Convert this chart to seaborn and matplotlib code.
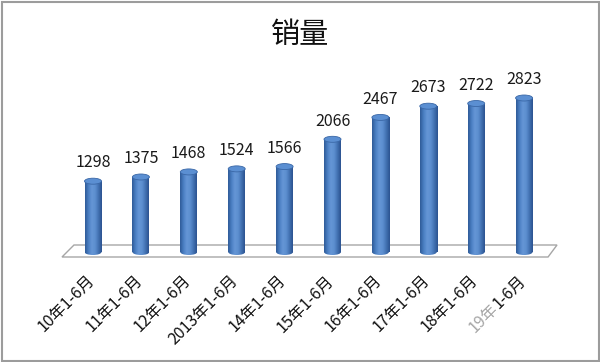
import numpy as np
import pandas as pd
import matplotlib
matplotlib.use("Agg")
import matplotlib.pyplot as plt
import seaborn as sns
from matplotlib.patches import Ellipse, Rectangle, Polygon
from matplotlib.colors import LinearSegmentedColormap

# ---- data ----
categories = ["10年1-6月", "11年1-6月", "12年1-6月", "2013年1-6月", "14年1-6月",
              "15年1-6月", "16年1-6月", "17年1-6月", "18年1-6月", "19年1-6月"]
sales = [1298, 1375, 1468, 1524, 1566, 2066, 2467, 2673, 2722, 2823]
title_text = "销量"

df = pd.DataFrame({"cat": categories, "sales": sales})

sns.set_theme(style="white")
plt.rcParams["font.family"] = ["Noto Sans CJK SC", "DejaVu Sans"]

W, H, DPI = 600, 362, 100
fig = plt.figure(figsize=(W / DPI, H / DPI), dpi=DPI)
ax = fig.add_axes([0, 0, 1, 1])

# pixel mapping
x0px, dxpx = 93.0, 47.9
base_px, ppu = 252.0, 0.05455
n = len(categories)

bar_w = 17 / dxpx
sns.barplot(data=df, x="cat", y="sales", ax=ax, width=bar_w, color="#4a7ebf",
            saturation=1, edgecolor="none", zorder=3)

# floor
fl_b = -5 / ppu
fl_t = 7 / ppu
floor = Polygon([(-0.647, fl_b), (n - 1 + 0.50, fl_b), (n - 1 + 0.687, fl_t), (-0.397, fl_t)],
                closed=True, facecolor="white", edgecolor="#a6a6a6", lw=1.0, zorder=1)
ax.add_patch(floor)

# cylinder look
cmap = LinearSegmentedColormap.from_list(
    "cyl", ["#2f5a97", "#4a7fc2", "#6596d6", "#5d8fd0", "#4272b2", "#2b5290"])
grad = np.linspace(0, 1, 64).reshape(1, -1)
eh = 6 / ppu
container = ax.containers[0]
for p in container.patches:
    xb, w, h = p.get_x(), p.get_width(), p.get_height()
    p.set_alpha(0)
    body = Rectangle((xb, 0), w, h, transform=ax.transData, facecolor="none", edgecolor="none")
    ax.add_patch(body)
    im = ax.imshow(grad, cmap=cmap, extent=[xb, xb + w, -eh / 2, h], aspect="auto",
                   origin="lower", zorder=4, interpolation="bicubic")
    im.set_clip_path(body)
    bot = Ellipse((xb + w / 2, 0), w, eh, facecolor="none", edgecolor="none")
    ax.add_patch(bot)
    im2 = ax.imshow(grad, cmap=cmap, extent=[xb, xb + w, -eh / 2, h], aspect="auto",
                    origin="lower", zorder=4, interpolation="bicubic")
    im2.set_clip_path(bot)
    top = Ellipse((xb + w / 2, h), w, eh, facecolor="#5b8fd2", edgecolor="#3a67a6",
                  lw=0.6, zorder=5)
    ax.add_patch(top)

# value labels
ax.bar_label(container, labels=[str(v) for v in sales], padding=7, fontsize=11.5,
             color="#1a1a1a", family=["Noto Sans CJK SC", "DejaVu Sans"], zorder=6)

# category labels
lab_fs = 11.5
lab_kw = dict(xycoords="data", textcoords="offset pixels", rotation=45,
              ha="right", va="top", rotation_mode="anchor", fontsize=lab_fs,
              family=["Noto Sans CJK SC", "DejaVu Sans"])
off = (-7, -20)
for i, c in enumerate(categories[:-1]):
    ax.annotate(c, xy=(i, 0), xytext=off, color="#111111", **lab_kw)

last = categories[-1]
split = last.index("年") + 1
part_grey, part_black = last[:split], last[split:]
ax.annotate(part_black, xy=(n - 1, 0), xytext=off, color="#111111", **lab_kw)
renderer = fig.canvas.get_renderer()
tmp = fig.text(0, 0, part_black, fontsize=lab_fs, family=["Noto Sans CJK SC", "DejaVu Sans"])
wpx = tmp.get_window_extent(renderer).width
tmp.remove()
d = wpx / np.sqrt(2)
ax.annotate(part_grey, xy=(n - 1, 0), xytext=(off[0] - d, off[1] - d), color="#a6a6a6", **lab_kw)

# title
fig.text(0.5, 1 - 35 / H, title_text, ha="center", va="center", fontsize=21, color="#111111",
         family=["Noto Sans CJK SC", "DejaVu Sans"])

ax.set_xlim(-x0px / dxpx, (W - x0px) / dxpx)
ax.set_ylim((base_px - H) / ppu, base_px / ppu)
ax.set_axis_off()

# outer border
fig.patches.append(Rectangle((1.5 / W, 1.5 / H), 1 - 3 / W, 1 - 3 / H, transform=fig.transFigure,
                             fill=False, edgecolor="#9c9c9c", lw=1.5))

fig.savefig("out.png", dpi=DPI)
